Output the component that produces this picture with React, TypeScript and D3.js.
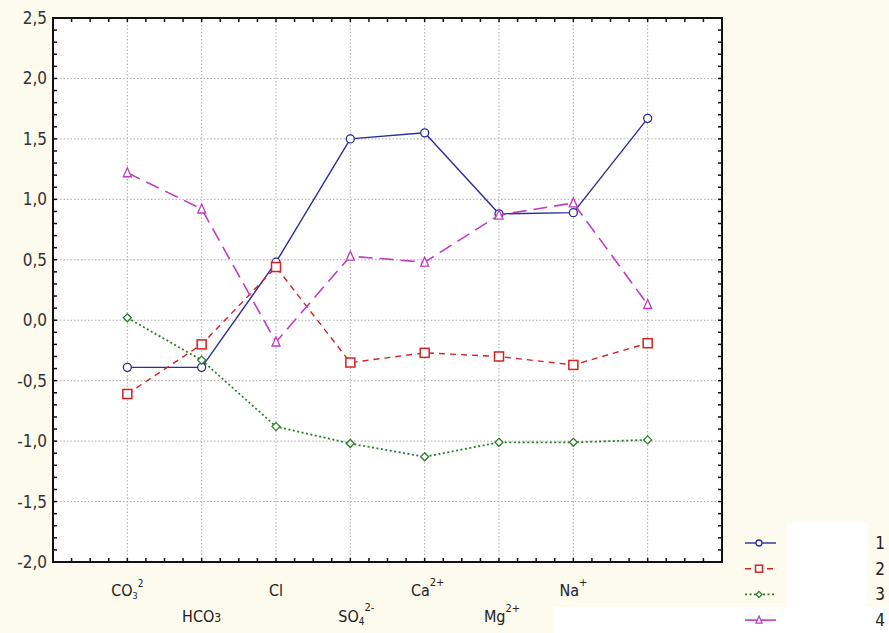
import React from "react";
import * as d3 from "d3";

const categories = ["CO3", "HCO3", "Cl", "SO4", "Ca", "Mg", "Na", ""];
const series1 = [-0.39, -0.39, 0.48, 1.5, 1.55, 0.88, 0.89, 1.67];
const series2 = [-0.61, -0.2, 0.44, -0.35, -0.27, -0.3, -0.37, -0.19];
const series3 = [0.02, -0.33, -0.88, -1.02, -1.13, -1.01, -1.01, -0.99];
const series4 = [1.22, 0.92, -0.18, 0.53, 0.48, 0.87, 0.97, 0.13];
const seriesNames = ["1", "2", "3", "4"];
const yTicks = [-2.0, -1.5, -1.0, -0.5, 0.0, 0.5, 1.0, 1.5, 2.0, 2.5];

const W = 889, H = 633;
const L = 53, R = 722, T = 18, B = 562;

const x = d3.scaleLinear().domain([0, categories.length + 1]).range([L, R]);
const y = d3.scaleLinear().domain([-2, 2.5]).range([B, T]);

const styles = [
  { color: "#2a2e9a", dash: "none", marker: "circle", width: 1.4 },
  { color: "#d42222", dash: "6,5", marker: "square", width: 1.4 },
  { color: "#2a7d2a", dash: "2,2.5", marker: "diamond", width: 1.8 },
  { color: "#c03cc0", dash: "14,7", marker: "triangle", width: 1.6 },
];
const data = [series1, series2, series3, series4];
const fmt = (v: number) => v.toFixed(1).replace(".", ",");
const FONT = "'Liberation Sans', Arial, sans-serif";
const NFONT = "'DejaVu Sans Condensed', 'DejaVu Sans', sans-serif";

function Marker({ type, cx, cy, color, s = 4 }: { type: string; cx: number; cy: number; color: string; s?: number }) {
  if (type === "circle") return <circle cx={cx} cy={cy} r={s} fill="white" stroke={color} strokeWidth={1.3} />;
  if (type === "square") return <rect x={cx - s - 0.5} y={cy - s - 0.5} width={2 * s + 1} height={2 * s + 1} fill="white" stroke={color} strokeWidth={1.5} />;
  if (type === "diamond") return <path d={`M${cx},${cy - s}L${cx + s},${cy}L${cx},${cy + s}L${cx - s},${cy}Z`} fill="white" stroke={color} strokeWidth={1.3} />;
  return <path d={`M${cx},${cy - s - 1}L${cx + s},${cy + s}L${cx - s},${cy + s}Z`} fill="white" stroke={color} strokeWidth={1.3} />;
}

function CatLabel({ i, cx }: { i: number; cx: number }) {
  const top = i % 2 === 0;
  const yy = top ? 596 : 622;
  const common = { fontFamily: NFONT, fontSize: 16, fill: "#222" } as any;
  const name = categories[i];
  if (name === "CO3")
    return (
      <text x={cx} y={yy} textAnchor="middle" {...common}>
        CO<tspan fontSize={9} dy={3}>3</tspan><tspan fontSize={10} dy={-12}>2</tspan>
      </text>
    );
  if (name === "HCO3")
    return <text x={cx} y={yy} textAnchor="middle" {...common}>HCO<tspan fontSize={12}>3</tspan></text>;
  if (name === "SO4")
    return (
      <text x={cx + 6} y={yy} textAnchor="middle" {...common}>
        SO<tspan fontSize={10} dy={3}>4</tspan><tspan fontSize={11} dy={-14}>2-</tspan>
      </text>
    );
  if (name === "Ca" || name === "Mg")
    return (
      <text x={cx + 3} y={yy} textAnchor="middle" {...common}>
        {name}<tspan fontSize={11} dy={-10}>2+</tspan>
      </text>
    );
  if (name === "Na")
    return (
      <text x={cx} y={yy} textAnchor="middle" {...common}>
        Na<tspan fontSize={11} dy={-10}>+</tspan>
      </text>
    );
  return <text x={cx} y={yy} textAnchor="middle" {...common}>{name}</text>;
}

export default function App() {
  const line = d3.line<number>().x((_, i) => x(i + 1)).y((d) => y(d));
  const minorY = d3.range(-2, 2.5001, 0.1);
  const minorX = d3.range(0, categories.length + 1.0001, 0.25);
  return (
    <svg width={W} height={H} style={{ position: "absolute", left: 0, top: 0 }}>
      <rect width={W} height={H} fill="#fdfaee" />
      <rect x={L} y={T} width={R - L} height={B - T} fill="white" />
      <rect x={553} y={607} width={336} height={26} fill="white" />
      <rect x={787} y={522} width={80} height={111} fill="white" />
      {yTicks.map((t) => (
        <line key={"gy" + t} x1={L} x2={R} y1={y(t)} y2={y(t)} stroke="#aaa" strokeDasharray="1.5,2" strokeWidth={1} />
      ))}
      {categories.map((_, i) => (
        <line key={"gx" + i} x1={x(i + 1)} x2={x(i + 1)} y1={T} y2={B} stroke="#aaa" strokeDasharray="1.5,2" strokeWidth={1} />
      ))}
      {minorY.map((t, k) => (
        <g key={"my" + k}>
          <line x1={L} x2={L + 4} y1={y(t)} y2={y(t)} stroke="#111" strokeWidth={1.5} />
          <line x1={R} x2={R - 4} y1={y(t)} y2={y(t)} stroke="#111" strokeWidth={1.5} />
        </g>
      ))}
      {minorX.map((t, k) => (
        <g key={"mx" + k}>
          <line x1={x(t)} x2={x(t)} y1={B} y2={B - 4} stroke="#111" strokeWidth={1.5} />
          <line x1={x(t)} x2={x(t)} y1={T} y2={T + 4} stroke="#111" strokeWidth={1.5} />
        </g>
      ))}
      <rect x={L} y={T} width={R - L} height={B - T} fill="none" stroke="#111" strokeWidth={2} />
      {yTicks.map((t) => (
        <text key={"yl" + t} x={L - 6} y={y(t) + 6} textAnchor="end" fontFamily={NFONT} fontSize={17} fill="#333">
          {fmt(t)}
        </text>
      ))}
      {categories.map((_, i) => (
        <CatLabel key={"cl" + i} i={i} cx={x(i + 1)} />
      ))}
      {data.map((s, k) => (
        <g key={"s" + k}>
          <path d={line(s) || ""} fill="none" stroke={styles[k].color} strokeWidth={styles[k].width} strokeDasharray={styles[k].dash} />
          {s.map((v, i) => (
            <Marker key={i} type={styles[k].marker} cx={x(i + 1)} cy={y(v)} color={styles[k].color} />
          ))}
        </g>
      ))}
      {seriesNames.map((n, k) => {
        const ly = 543 + k * 25.7;
        return (
          <g key={"lg" + k}>
            <line x1={745} x2={776} y1={ly} y2={ly} stroke={styles[k].color} strokeWidth={styles[k].width} strokeDasharray={styles[k].dash === "14,7" ? "none" : styles[k].dash} />
            <Marker type={styles[k].marker} cx={759} cy={ly} color={styles[k].color} s={3} />
            <text x={880} y={ly + 6} textAnchor="middle" fontFamily={NFONT} fontSize={17} fill="#222">{n}</text>
          </g>
        );
      })}
    </svg>
  );
}
